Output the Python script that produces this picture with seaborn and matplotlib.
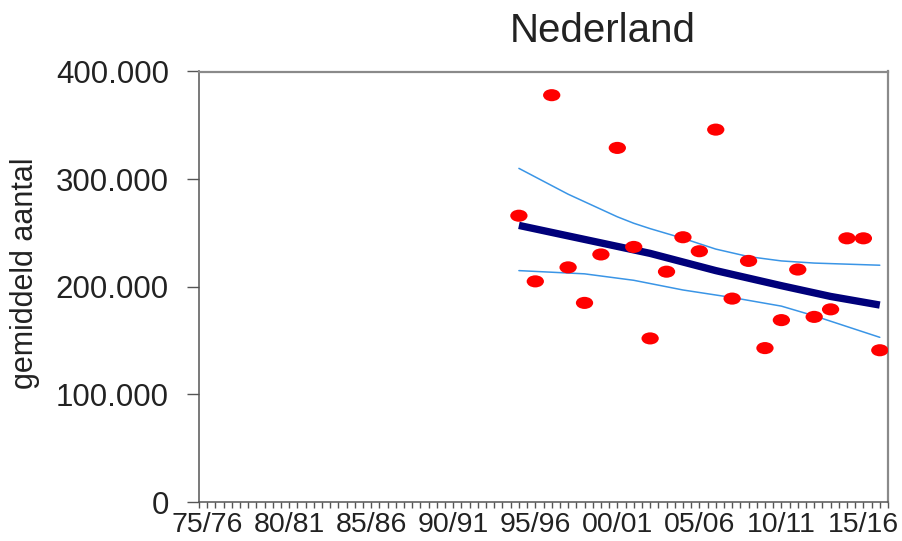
import matplotlib
matplotlib.use("Agg")
import matplotlib.pyplot as plt
import matplotlib.transforms as mtrans
from matplotlib.path import Path
from matplotlib.ticker import MultipleLocator
import pandas as pd
import seaborn as sns

# Season start years and averaged counts
season_years = [1994, 1995, 1996, 1997, 1998, 1999, 2000, 2001, 2002, 2003, 2004, 2005,
                2006, 2007, 2008, 2009, 2010, 2011, 2012, 2013, 2014, 2015, 2016]
counts = [266000, 205000, 378000, 218000, 185000, 230000, 329000, 237000, 152000, 214000,
          246000, 233000, 346000, 189000, 224000, 143000, 169000, 216000, 172000, 179000,
          245000, 245000, 141000]

# Trend line and confidence band
trend_years = [1994, 1998, 2002, 2006, 2010, 2013, 2016]
trend_vals = [257000, 244000, 231000, 215000, 201000, 191000, 183000]
upper_years = [1994, 1995, 1996, 1997, 1998, 1999, 2000, 2001, 2002, 2004, 2006, 2008,
               2010, 2012, 2014, 2016]
upper_vals = [310000, 302000, 294000, 286000, 279000, 272000, 265000, 259000, 254000,
              245000, 235000, 228000, 224000, 222000, 221000, 220000]
lower_years = [1994, 1998, 2001, 2004, 2007, 2010, 2012, 2014, 2016]
lower_vals = [215000, 212000, 206000, 197000, 190000, 182000, 173000, 163000, 153000]

xtick_years = [1975, 1980, 1985, 1990, 1995, 2000, 2005, 2010, 2015]
xtick_labels = ["75/76", "80/81", "85/86", "90/91", "95/96", "00/01", "05/06", "10/11", "15/16"]
ytick_vals = [0, 100000, 200000, 300000, 400000]
ytick_labels = ["0", "100.000", "200.000", "300.000", "400.000"]

sns.set_style("white")
plt.rcParams["font.family"] = ["Liberation Sans", "DejaVu Sans"]

df = pd.DataFrame({"season": season_years, "count": counts})
trend = pd.DataFrame({"season": trend_years, "count": trend_vals})
upper = pd.DataFrame({"season": upper_years, "count": upper_vals})
lower = pd.DataFrame({"season": lower_years, "count": lower_vals})

fig = plt.figure(figsize=(9.03, 5.41), dpi=100)
ax = fig.add_axes([199 / 903, 1 - 502 / 541, 689 / 903, 430.5 / 541])

sns.lineplot(data=upper, x="season", y="count", ax=ax, color="#3a95e6", linewidth=1.1)
sns.lineplot(data=lower, x="season", y="count", ax=ax, color="#3a95e6", linewidth=1.1)
sns.lineplot(data=trend, x="season", y="count", ax=ax, color="#00007a", linewidth=5.3,
             solid_capstyle="butt")

# horizontal ellipse marker
ellipse = Path.unit_circle().transformed(mtrans.Affine2D().scale(1.0, 0.7))
sns.scatterplot(data=df, x="season", y="count", ax=ax, marker=ellipse, s=155,
                color="#ff0000", edgecolor="none", zorder=3)

ax.set_xlim(1974.5, 2016.5)
ax.set_ylim(0, 400000)
ax.set_xticks(xtick_years)
ax.set_xticklabels(xtick_labels, fontsize=20.5, color="#222222")
ax.xaxis.set_minor_locator(MultipleLocator(0.5))
ax.set_yticks(ytick_vals)
ax.set_yticklabels(ytick_labels, fontsize=22.5, color="#222222")
ax.tick_params(axis="x", which="both", direction="out", length=4, width=1,
               color="#555555", pad=3.5, bottom=True)
ax.tick_params(axis="y", direction="out", length=8.6, width=1, color="#555555",
               pad=13, left=True)
ax.set_xlabel("")
ax.set_ylabel("")

for side in ["left", "bottom"]:
    ax.spines[side].set_color("#555555")
    ax.spines[side].set_linewidth(1.1)
for side in ["top", "right"]:
    ax.spines[side].set_color("#8a8a8a")
    ax.spines[side].set_linewidth(1.6)

fig.text(603 / 903, 1 - 31 / 541, "Nederland", fontsize=29, ha="center", va="center",
         color="#222222")
fig.text(25.5 / 903, 1 - 273 / 541, "gemiddeld aantal", fontsize=22, rotation=90,
         ha="center", va="center", color="#222222")

fig.savefig("out.png", dpi=100)
